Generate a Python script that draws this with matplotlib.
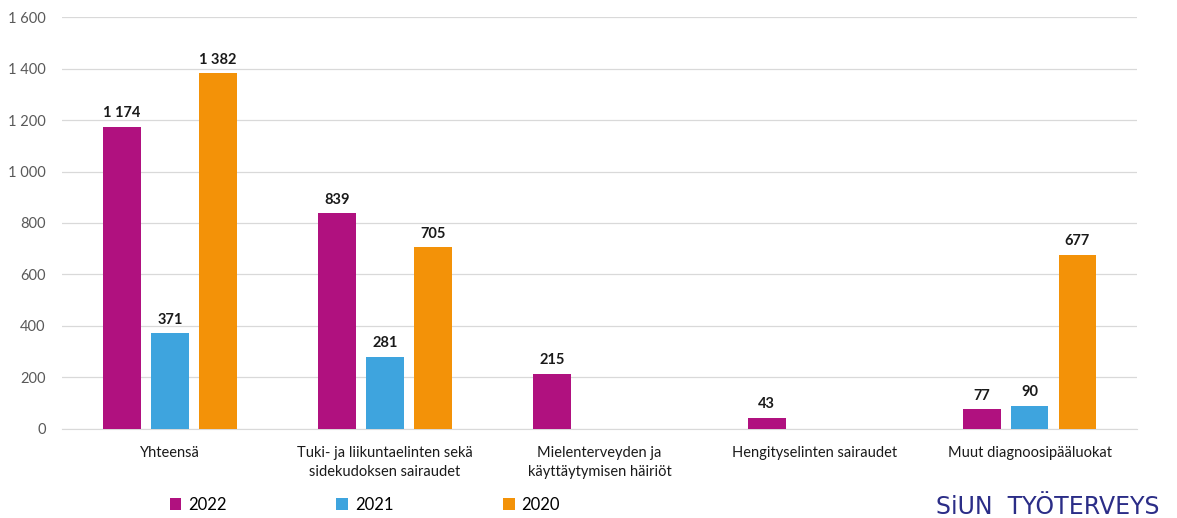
import numpy as np
import matplotlib.pyplot as plt
from matplotlib.ticker import FuncFormatter

plt.rcParams['font.family'] = ['Lato', 'DejaVu Sans']

# Data
kategoriat = ["Yhteensä", "Tuki- ja liikuntaelinten sekä\nsidekudoksen sairaudet",
              "Mielenterveyden ja\nkäyttäytymisen häiriöt", "Hengityselinten sairaudet",
              "Muut diagnoosipääluokat"]
vuodet = ["2022", "2021", "2020"]
arvot_2022 = [1174, 839, 215, 43, 77]
arvot_2021 = [371, 281, None, None, 90]
arvot_2020 = [1382, 705, None, None, 677]
varit = ["#B0117F", "#3EA4DE", "#F39208"]


def fmt(v):
    return f"{int(v):,}".replace(",", " ")


fig = plt.figure(figsize=(11.77, 5.18), dpi=100)
ax = fig.add_axes([0.053, 0.172, 0.913, 0.795])

x = np.arange(len(kategoriat))
leveys = 0.176
vali = 0.223
sarjat = [arvot_2022, arvot_2021, arvot_2020]

for i, (sarja, vari, vuosi) in enumerate(zip(sarjat, varit, vuodet)):
    y = np.array([np.nan if v is None else v for v in sarja], dtype=float)
    pos = x + (i - 1) * vali
    ax.bar(pos, y, width=leveys, color=vari, label=vuosi, zorder=3)
    for px, py in zip(pos, y):
        if not np.isnan(py):
            ax.text(px, py + 25, fmt(py), ha="center", va="bottom",
                    fontsize=10.5, fontweight="bold", color="#1a1a1a")

ax.set_ylim(0, 1600)
ax.set_xlim(-0.5, len(kategoriat) - 0.5)
ax.set_yticks(range(0, 1601, 200))
ax.yaxis.set_major_formatter(FuncFormatter(lambda v, p: fmt(v)))
ax.set_xticks(x)
ax.set_xticklabels(kategoriat, fontsize=10.5, color="#1a1a1a", linespacing=1.5)
ax.tick_params(axis="y", labelsize=10.5, labelcolor="#595959", length=0, pad=12)
ax.tick_params(axis="x", length=0, pad=12)
ax.grid(axis="y", color="#d9d9d9", linewidth=0.9, zorder=0)
for s in ["top", "right", "left"]:
    ax.spines[s].set_visible(False)
ax.spines["bottom"].set_color("#d9d9d9")

# Legend
fig.legend(loc="center", bbox_to_anchor=(0.31, 0.026), ncol=3, frameon=False,
           fontsize=12, handlelength=0.7, handleheight=0.7, columnspacing=6.6,
           handletextpad=0.4)

# Logo text
fig.text(0.89, 0.022, "SiUN  TYÖTERVEYS", ha="center", va="center", fontsize=17,
         color="#2B2D87", fontweight="medium", family="DejaVu Sans")

fig.savefig("out.png", dpi=100)
